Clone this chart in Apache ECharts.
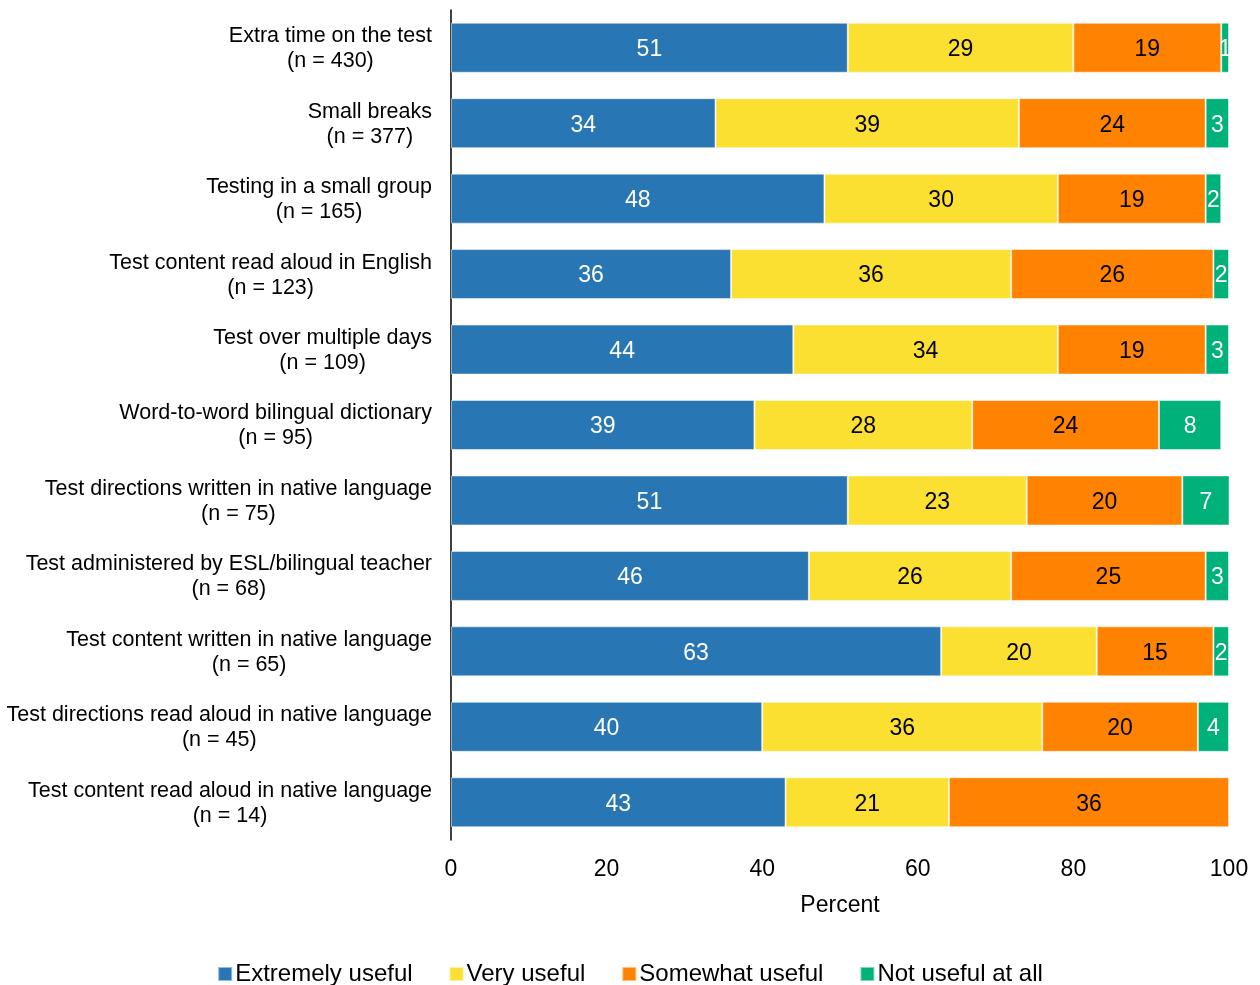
<!DOCTYPE html>
<html lang="en">
<head>
  <meta charset="UTF-8">
  <title>Usefulness of test accommodations</title>
  <script src="https://cdn.jsdelivr.net/npm/echarts@6/dist/echarts.min.js"></script>
  <style>
    html, body { margin: 0; padding: 0; background: #fff; }
    #chart { width: 1260px; height: 985px; }
  </style>
</head>
<body>
<div id="chart"></div>
<script>
  // categories, top to bottom
  const accommodations = [
    'Extra time on the test',
    'Small breaks',
    'Testing in a small group',
    'Test content read aloud in English',
    'Test over multiple days',
    'Word-to-word bilingual dictionary',
    'Test directions written in native language',
    'Test administered by ESL/bilingual teacher',
    'Test content written in native language',
    'Test directions read aloud in native language',
    'Test content read aloud in native language'
  ];
  const sampleSizes = [430, 377, 165, 123, 109, 95, 75, 68, 65, 45, 14];

  const extremelyUseful = [51, 34, 48, 36, 44, 39, 51, 46, 63, 40, 43];
  const veryUseful      = [29, 39, 30, 36, 34, 28, 23, 26, 20, 36, 21];
  const somewhatUseful  = [19, 24, 19, 26, 19, 24, 20, 25, 15, 20, 36];
  const notUseful       = [1, 3, 2, 2, 3, 8, 7, 3, 2, 4, null];

  const xTicks = [0, 20, 40, 60, 80, 100];

  const font = 'Liberation Sans, Arial, sans-serif';
  const categories = accommodations.map((name, i) => name + '|' + sampleSizes[i]);

  function makeSeries(name, values, color, textColor) {
    return {
      name: name,
      type: 'bar',
      stack: 'total',
      barWidth: 50,
      data: values,
      itemStyle: { color: color, borderColor: 'rgba(255,255,255,0.5)', borderWidth: 1 },
      label: {
        show: true,
        position: 'inside',
        offset: [0, 2],
        color: textColor,
        fontFamily: font,
        fontSize: 23
      },
      emphasis: { disabled: true }
    };
  }

  const chart = echarts.init(document.getElementById('chart'));
  chart.setOption({
    animation: false,
    textStyle: { fontFamily: font },
    grid: { left: 451, right: 31, top: 10, height: 830, containLabel: false },
    legend: {
      bottom: -6,
      left: 'center',
      itemWidth: 14,
      itemHeight: 14,
      itemGap: 36,
      icon: 'rect',
      textStyle: { fontFamily: font, fontSize: 24, color: '#000', padding: [0, 0, 0, -2] },
      data: ['Extremely useful', 'Very useful', 'Somewhat useful', 'Not useful at all']
    },
    xAxis: {
      type: 'value',
      min: xTicks[0],
      max: xTicks[xTicks.length - 1],
      interval: 20,
      name: 'Percent',
      nameLocation: 'middle',
      nameGap: 54,
      nameTextStyle: { fontFamily: font, fontSize: 23, color: '#000' },
      axisLine: { show: false },
      axisTick: { show: false },
      splitLine: { show: false },
      axisLabel: { fontFamily: font, fontSize: 23, color: '#000', margin: 18 }
    },
    yAxis: {
      type: 'category',
      inverse: true,
      data: categories,
      axisLine: { show: true, lineStyle: { color: '#000', width: 1.5 } },
      axisTick: { show: false },
      axisLabel: {
        margin: 19,
        align: 'right',
        padding: [2, 0, 0, 0],
        formatter: function (value) {
          const parts = value.split('|');
          return '{a|' + parts[0] + '}\n{a|(n = ' + parts[1] + ')}';
        },
        rich: {
          a: { align: 'center', fontFamily: font, fontSize: 21.5, color: '#000', lineHeight: 25 }
        }
      }
    },
    series: [
      makeSeries('Extremely useful', extremelyUseful, '#2976B5', '#fff'),
      makeSeries('Very useful', veryUseful, '#FBE032', '#000'),
      makeSeries('Somewhat useful', somewhatUseful, '#FF8200', '#000'),
      makeSeries('Not useful at all', notUseful, '#00B27A', '#fff')
    ]
  });
</script>
</body>
</html>
